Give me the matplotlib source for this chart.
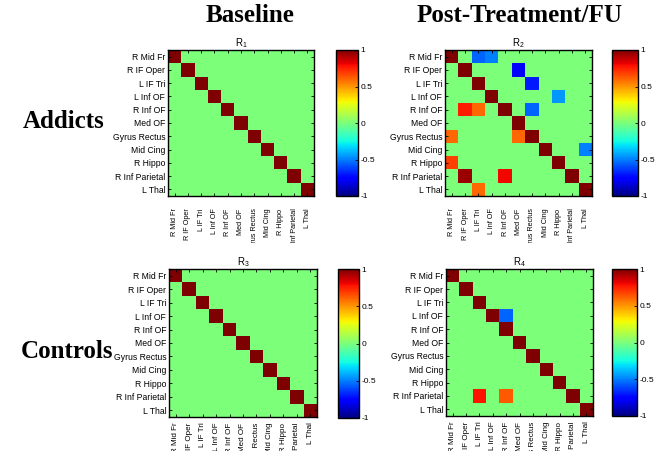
import matplotlib
matplotlib.use("Agg")
import matplotlib.pyplot as plt
from matplotlib.transforms import Bbox, TransformedBbox
import numpy as np

plt.rcParams['font.family'] = ['Liberation Sans', 'DejaVu Sans']

# region names (rows / columns of each matrix)
regions = ["R Mid Fr", "R IF Oper", "L IF Tri", "L Inf OF", "R Inf OF", "Med OF",
           "Gyrus Rectus", "Mid Cing", "R Hippo", "R Inf Parietal", "L Thal"]

# off-diagonal entries (row, col, value); diagonal = 1
r1_cells = []
r2_cells = [(0, 2, -0.55), (0, 3, -0.5), (1, 5, -0.75), (2, 6, -0.7), (3, 8, -0.45),
            (4, 1, 0.75), (4, 2, 0.6), (4, 6, -0.55), (6, 0, 0.6), (6, 5, 0.6),
            (7, 10, -0.5), (8, 0, 0.68), (9, 1, 0.95), (9, 4, 0.8), (10, 2, 0.6)]
r3_cells = []
r4_cells = [(3, 4, -0.55), (9, 2, 0.78), (9, 4, 0.63)]

titles = ["1", "2", "3", "4"]
col_titles = ["Baseline", "Post-Treatment/FU"]
row_titles = ["Addicts", "Controls"]


def build(cells):
    m = np.eye(len(regions))
    for r, c, v in cells:
        m[r, c] = v
    return m


mats = [build(r1_cells), build(r2_cells), build(r3_cells), build(r4_cells)]

fig = plt.figure(figsize=(6.55, 4.51), dpi=100)
W, H = 655.0, 451.0

# pixel boxes: (left, top, right, bottom) for heatmap and colorbar
ax_boxes = [(168, 50, 314, 196), (445, 50, 592, 196), (169, 269, 317, 417), (446, 269, 593, 416)]
cb_boxes = [(336, 50, 358, 196), (612, 50, 638, 196), (338, 269, 359, 418), (612, 269, 637, 416)]
# x labels of the top row are cut off just above the lower panels
clip_bottom = [243, 243, 451, 451]
xpad = [9, 9, 4, 4]
xsize = [5.2, 5.2, 5.8, 5.8]

for i in range(4):
    l, t, r, b = ax_boxes[i]
    ax = fig.add_axes([l / W, 1 - b / H, (r - l) / W, (b - t) / H])
    im = ax.imshow(mats[i], cmap='jet', vmin=-1, vmax=1, aspect='auto', interpolation='nearest')
    ax.set_xticks(range(len(regions)))
    ax.set_yticks(range(len(regions)))
    ax.set_xticklabels(regions, rotation=90, fontsize=xsize[i])
    ax.set_yticklabels(regions, fontsize=6.2)
    ax.tick_params(direction='in', length=2, width=0.6, top=True, right=True, pad=2)
    ax.tick_params(axis='x', pad=xpad[i])
    clip = TransformedBbox(Bbox([[0, 1 - clip_bottom[i] / H], [1, 1]]), fig.transFigure)
    for lab in ax.get_xticklabels():
        lab.set_clip_box(clip)
        lab.set_clip_on(True)
    for s in ax.spines.values():
        s.set_linewidth(1.0)
    ax.set_title(r'$\mathregular{R_' + titles[i] + '}$', fontsize=7, pad=3)

    l, t, r, b = cb_boxes[i]
    cax = fig.add_axes([l / W, 1 - b / H, (r - l) / W, (b - t) / H])
    cb = fig.colorbar(im, cax=cax, ticks=[-1, -0.5, 0, 0.5, 1])
    cb.ax.set_yticklabels(["-1", "-0.5", "0", "0.5", "1"])
    cb.ax.tick_params(labelsize=6, direction='in', length=2, width=0.6, pad=2)
    cb.outline.set_linewidth(1.0)

serif = ['Liberation Serif', 'DejaVu Serif']
fig.text(250 / W, 1 - 16 / H, col_titles[0], fontsize=18, fontweight='bold', family=serif,
         ha='center', va='center')
fig.text(520 / W, 1 - 16 / H, col_titles[1], fontsize=18, fontweight='bold', family=serif,
         ha='center', va='center')
fig.text(64 / W, 1 - 122 / H, row_titles[0], fontsize=18, fontweight='bold', family=serif,
         ha='center', va='center')
fig.text(67 / W, 1 - 352 / H, row_titles[1], fontsize=18, fontweight='bold', family=serif,
         ha='center', va='center')

fig.savefig("out.png", dpi=100)
